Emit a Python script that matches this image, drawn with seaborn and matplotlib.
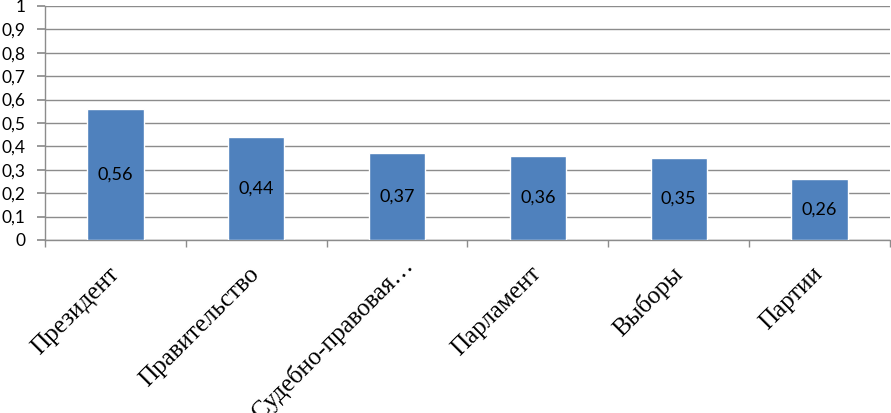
import matplotlib
matplotlib.use("Agg")
import matplotlib.pyplot as plt
import matplotlib.transforms as mtransforms
import seaborn as sns
import pandas as pd
from matplotlib.ticker import FixedLocator, FuncFormatter, MultipleLocator

categories = ["Президент", "Правительство", "Судебно-правовая…", "Парламент", "Выборы", "Партии"]
values = [0.56, 0.44, 0.37, 0.36, 0.35, 0.26]
value_labels = ["0,56", "0,44", "0,37", "0,36", "0,35", "0,26"]

sns.set_theme(style="white")
plt.rcParams['font.family'] = ['Lato', 'DejaVu Sans']

df = pd.DataFrame({"cat": categories, "val": values})

fig = plt.figure(figsize=(8.91, 4.13), dpi=100)
ax = fig.add_axes([45/891, 1-240/413, (890-45)/891, (240-6)/413])

sns.barplot(data=df, x="cat", y="val", color="#4F81BD", width=0.4, saturation=1, ax=ax, zorder=3)

ax.set_ylim(0, 1)
ax.set_xlim(-0.5, len(categories)-0.5)
ax.yaxis.set_major_locator(MultipleLocator(0.1))
ax.yaxis.set_major_formatter(FuncFormatter(lambda v, p: ("%g" % round(v, 1)).replace(".", ",")))
ax.grid(axis="y", color="#8c8c8c", linewidth=1, zorder=0)
ax.set_axisbelow(True)

for s in ["top", "right"]:
    ax.spines[s].set_visible(False)
for s in ["left", "bottom"]:
    ax.spines[s].set_color("#8c8c8c")
    ax.spines[s].set_linewidth(1)

ax.tick_params(axis="y", which="major", left=True, length=6, color="#8c8c8c", labelsize=12.5, pad=8, labelcolor="black")
ax.tick_params(axis="x", which="major", bottom=False, length=0, pad=22)
ax.xaxis.set_minor_locator(FixedLocator([i + 0.5 for i in range(-1, len(categories))]))
ax.tick_params(axis="x", which="minor", bottom=True, length=5, color="#8c8c8c", direction="out")

ax.set_xticks(range(len(categories)))
ax.set_xticklabels(categories, rotation=45, ha="right", va="center", rotation_mode="anchor",
                   fontfamily="Liberation Serif", fontsize=18, color="black")

# the truncated label sits a little further right/up in the reference
lbl = ax.get_xticklabels()[2]
lbl.set_transform(lbl.get_transform() + mtransforms.ScaledTranslation(12/100, 9/100, fig.dpi_scale_trans))

for i, (v, t) in enumerate(zip(values, value_labels)):
    ax.text(i, v/2, t, ha="center", va="center", fontsize=13, color="black", zorder=4)

ax.set_xlabel("")
ax.set_ylabel("")

fig.savefig("out.png", dpi=100)
